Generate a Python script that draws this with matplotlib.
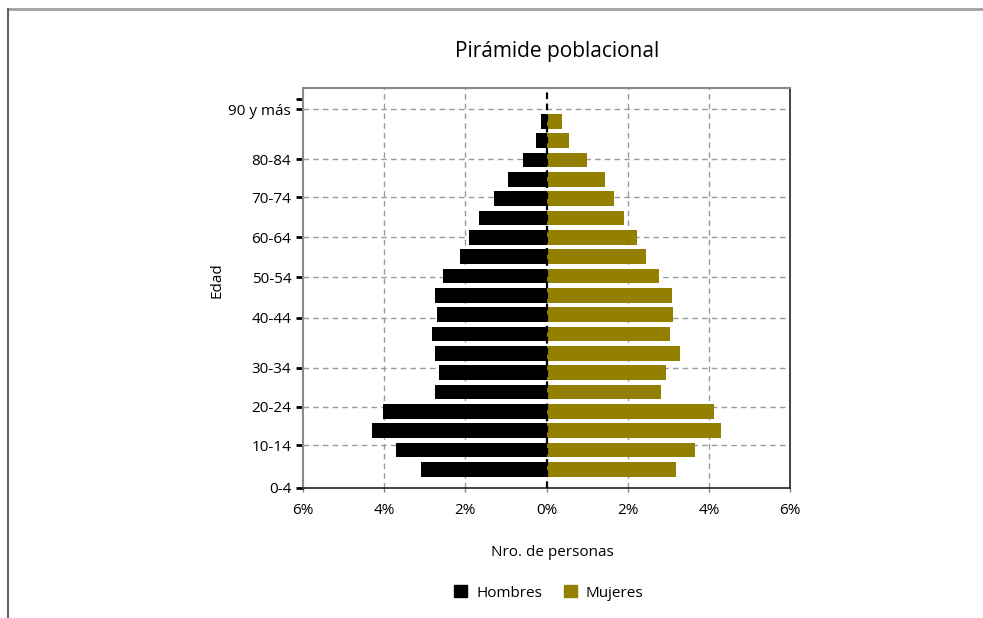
import numpy as np
import matplotlib.pyplot as plt
from matplotlib.lines import Line2D
from matplotlib.patches import Patch

plt.rcParams['font.family'] = ['Open Sans', 'DejaVu Sans']

# Datos (porcentaje de la poblacion por grupo de edad)
age_groups = ["0-4", "5-9", "10-14", "15-19", "20-24", "25-29", "30-34", "35-39",
              "40-44", "45-49", "50-54", "55-59", "60-64", "65-69", "70-74",
              "75-79", "80-84", "85-89", "90 y más"]
hombres = [3.10, 3.71, 4.30, 4.02, 2.75, 2.65, 2.75, 2.82, 2.71, 2.75,
           2.55, 2.14, 1.92, 1.67, 1.30, 0.95, 0.58, 0.26, 0.13]
mujeres = [3.20, 3.66, 4.31, 4.13, 2.83, 2.95, 3.29, 3.05, 3.12, 3.10,
           2.78, 2.44, 2.22, 1.90, 1.66, 1.43, 0.99, 0.55, 0.37]
ytick_labels = ["0-4", "10-14", "20-24", "30-34", "40-44", "50-54",
                "60-64", "70-74", "80-84", "90 y más"]
xtick_vals = [-6, -4, -2, 0, 2, 4, 6]
xtick_labels = ["6%", "4%", "2%", "0%", "2%", "4%", "6%"]

# posiciones de las etiquetas del eje y (en unidades de barra)
ytick_pos = [-0.97, 1.23, 3.23, 5.24, 7.84, 9.93, 12.0, 14.07, 16.03, 18.62]
extra_tick = 19.14

OLIVE = "#948000"
W, H = 983, 618
FS = 11

fig = plt.figure(figsize=(W / 100, H / 100), dpi=100)
ax = fig.add_axes([303 / W, 1 - 488 / H, 487 / W, 400 / H])

y = np.arange(len(age_groups))
ax.barh(y, -np.array(hombres), height=0.76, color="black", zorder=2)
ax.barh(y, mujeres, height=0.76, color=OLIVE, zorder=2)

ax.set_xlim(-6, 6)
ax.set_ylim(-0.97, 19.72)

# rejilla
for xv in xtick_vals[1:-1]:
    if xv != 0:
        ax.axvline(xv, color="#9a9a9a", ls=(0, (4, 3)), lw=1, zorder=0)
for yv in ytick_pos[1:]:
    ax.axhline(yv, color="#9a9a9a", ls=(0, (4, 3)), lw=1, zorder=0)
ax.axvline(0, color="black", ls=(0, (3, 2)), lw=1.6, zorder=3)

ax.set_xticks(xtick_vals)
ax.set_xticklabels(xtick_labels, fontsize=FS)
ax.set_yticks(ytick_pos + [extra_tick])
ax.set_yticklabels(ytick_labels + [""], fontsize=FS)
ax.tick_params(axis="y", length=5, width=2, color="black", pad=3.5)
ax.tick_params(axis="x", length=3, width=1, color="#808080", pad=8)

for side in ["left", "top"]:
    ax.spines[side].set_color("#8a8a8a")
    ax.spines[side].set_linewidth(1.5)
for side in ["right", "bottom"]:
    ax.spines[side].set_color("#222222")
    ax.spines[side].set_linewidth(1.2)

fig.text(557 / W, 1 - 52 / H, "Pirámide poblacional", ha="center", va="center", fontsize=15)
fig.text(552 / W, 1 - 552 / H, "Nro. de personas", ha="center", va="center", fontsize=FS)
fig.text(217 / W, 1 - 280 / H, "Edad", ha="center", va="center", rotation=90, fontsize=FS)

handles = [Patch(color="black", label="Hombres"), Patch(color=OLIVE, label="Mujeres")]
fig.legend(handles=handles, loc="center", bbox_to_anchor=(549 / W, 1 - 593 / H), ncol=2,
           frameon=False, fontsize=FS, handlelength=0.85, handleheight=0.85,
           handletextpad=0.6, columnspacing=1.4)

# marco de la pagina
fig.add_artist(Line2D([8 / W, 1], [1 - 9 / H, 1 - 9 / H], transform=fig.transFigure,
                      color="#a0a0a0", lw=2))
fig.add_artist(Line2D([8 / W, 8 / W], [0, 1 - 9 / H], transform=fig.transFigure,
                      color="#606060", lw=1.5))

fig.savefig("out.png", dpi=100)
